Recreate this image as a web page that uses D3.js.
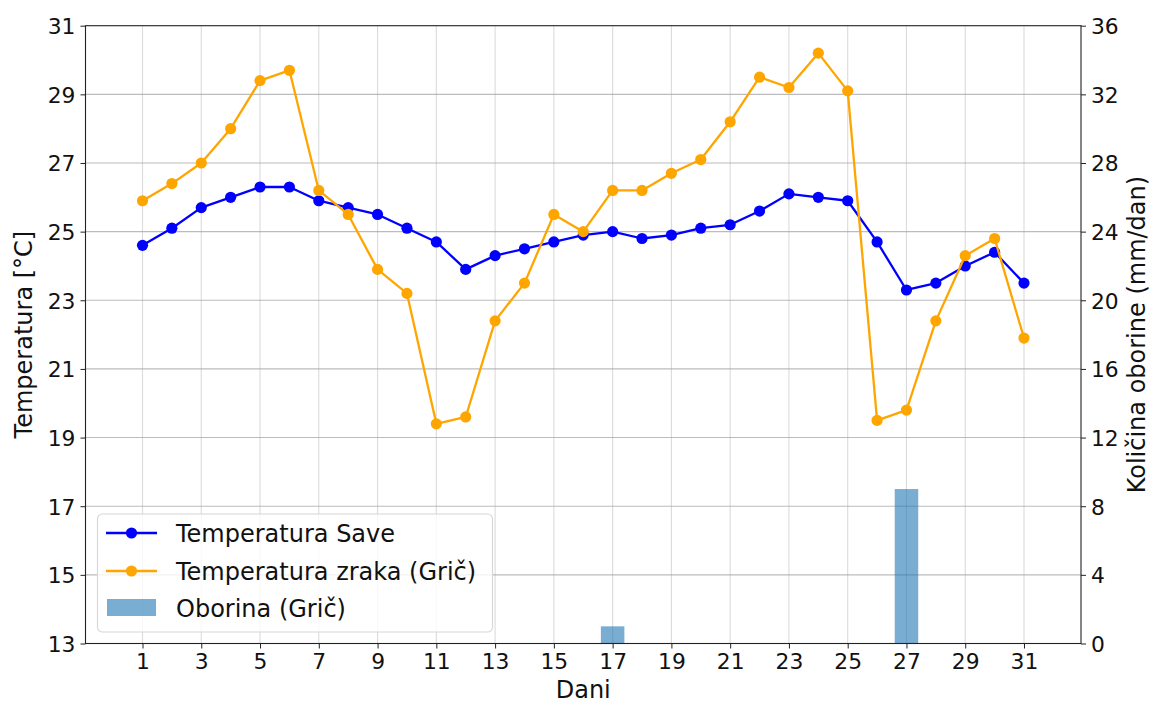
<!DOCTYPE html>
<html>
<head>
<meta charset="utf-8">
<script src="https://cdn.jsdelivr.net/npm/d3@7"></script>
<style>
  html, body { margin: 0; padding: 0; background: #fff; }
  svg { display: block; font-family: "DejaVu Sans", sans-serif; }
</style>
</head>
<body>
<svg id="chart" width="1152" height="705"></svg>
<script>
const days = d3.range(1, 32);
const tempSave = [24.6, 25.1, 25.7, 26.0, 26.3, 26.3, 25.9, 25.7, 25.5, 25.1,
  24.7, 23.9, 24.3, 24.5, 24.7, 24.9, 25.0, 24.8, 24.9, 25.1,
  25.2, 25.6, 26.1, 26.0, 25.9, 24.7, 23.3, 23.5, 24.0, 24.4, 23.5];
const tempGric = [25.9, 26.4, 27.0, 28.0, 29.4, 29.7, 26.2, 25.5, 23.9, 23.2,
  19.4, 19.6, 22.4, 23.5, 25.5, 25.0, 26.2, 26.2, 26.7, 27.1,
  28.2, 29.5, 29.2, 30.2, 29.1, 19.5, 19.8, 22.4, 24.3, 24.8, 21.9];
const precip = [0, 0, 0, 0, 0, 0, 0, 0, 0, 0,
  0, 0, 0, 0, 0, 0, 1.0, 0, 0, 0,
  0, 0, 0, 0, 0, 0, 9.0, 0, 0, 0, 0];
const xTicks = d3.range(1, 32, 2);
const leftTicks = d3.range(13, 32, 2);
const rightTicks = d3.range(0, 37, 4);
const seriesNames = ["Temperatura Save", "Temperatura zraka (Grič)", "Oborina (Grič)"];

const L = 85.5, R = 1081, T = 25.7, B = 643.5;
const svg = d3.select("#chart");

const x = d3.scaleLinear().domain([-0.94, 32.94]).range([L, R]);
const yL = d3.scaleLinear().domain([13, 31]).range([B, T]);
const yR = d3.scaleLinear().domain([0, 36]).range([B, T]);

const tickFont = "21.8px";
const labelFont = "24px";
const lw = 2.3, mr = 5.6;

// grid
const grid = svg.append("g");
grid.selectAll("line.v").data(xTicks).join("line")
  .attr("x1", d => x(d)).attr("x2", d => x(d)).attr("y1", T).attr("y2", B)
  .attr("stroke", "#b0b0b0").attr("stroke-opacity", 0.45).attr("stroke-width", 1.1);
grid.selectAll("line.h").data(leftTicks.slice(1, -1)).join("line")
  .attr("x1", L).attr("x2", R).attr("y1", d => yL(d)).attr("y2", d => yL(d))
  .attr("stroke", "#a0a0a0").attr("stroke-opacity", 0.7).attr("stroke-width", 1.1);

// bars
const bw = x(0.8) - x(0);
svg.append("g").selectAll("rect").data(days.map((d, i) => ({d, v: precip[i]})).filter(o => o.v > 0)).join("rect")
  .attr("x", o => x(o.d) - bw / 2).attr("width", bw)
  .attr("y", o => yR(o.v)).attr("height", o => B - yR(o.v))
  .attr("fill", "#1f77b4").attr("fill-opacity", 0.6);

// lines
function drawSeries(vals, color) {
  const g = svg.append("g");
  const line = d3.line().x((d, i) => x(days[i])).y(d => yL(d));
  g.append("path").datum(vals).attr("d", line)
    .attr("fill", "none").attr("stroke", color).attr("stroke-width", lw)
    .attr("stroke-linejoin", "round");
  g.selectAll("circle").data(vals).join("circle")
    .attr("cx", (d, i) => x(days[i])).attr("cy", d => yL(d)).attr("r", mr)
    .attr("fill", color);
}
drawSeries(tempSave, "#0000ff");
drawSeries(tempGric, "#ffa500");

// axes
const xAxis = d3.axisBottom(x).tickValues(xTicks).tickSize(5).tickPadding(5).tickFormat(d3.format("d"));
const yAxisL = d3.axisLeft(yL).tickValues(leftTicks).tickSize(5).tickPadding(5).tickFormat(d3.format("d"));
const yAxisR = d3.axisRight(yR).tickValues(rightTicks).tickSize(5).tickPadding(5).tickFormat(d3.format("d"));

function styleAxis(g) {
  g.select(".domain").remove();
  g.selectAll(".tick line").attr("stroke", "#222").attr("stroke-width", 1);
  g.selectAll(".tick text").attr("fill", "#111").style("font-size", tickFont)
    .style("font-family", "DejaVu Sans, sans-serif");
}
svg.append("g").attr("transform", `translate(0,${B})`).call(xAxis).call(styleAxis);
svg.append("g").attr("transform", `translate(${L},0)`).call(yAxisL).call(styleAxis)
  .selectAll(".tick text").attr("dy", "0.36em");
svg.append("g").attr("transform", `translate(${R},0)`).call(yAxisR).call(styleAxis)
  .selectAll(".tick text").attr("dy", "0.36em");

// frame
svg.append("rect").attr("x", L).attr("y", T).attr("width", R - L).attr("height", B - T)
  .attr("fill", "none").attr("stroke", "#222").attr("stroke-width", 1.1);

// labels
svg.append("text").attr("x", (L + R) / 2).attr("y", 698).attr("text-anchor", "middle")
  .style("font-size", labelFont).attr("fill", "#111").text("Dani");
svg.append("text").attr("transform", `translate(32,${(T + B) / 2}) rotate(-90)`)
  .attr("text-anchor", "middle").style("font-size", labelFont).attr("fill", "#111").text("Temperatura [°C]");
svg.append("text").attr("transform", `translate(1145,${(T + B) / 2}) rotate(-90)`)
  .attr("text-anchor", "middle").style("font-size", labelFont).attr("fill", "#111").text("Količina oborine (mm/dan)");

// legend
const lg = svg.append("g");
lg.append("rect").attr("x", 97.5).attr("y", 514).attr("width", 395).attr("height", 118).attr("rx", 5)
  .attr("fill", "#fff").attr("fill-opacity", 0.8).attr("stroke", "#d6d6d6").attr("stroke-width", 1.1);
const rowsY = [533, 571, 608];
[["#0000ff", seriesNames[0]], ["#ffa500", seriesNames[1]]].forEach(([c, name], i) => {
  lg.append("line").attr("x1", 106).attr("x2", 157).attr("y1", rowsY[i]).attr("y2", rowsY[i])
    .attr("stroke", c).attr("stroke-width", lw);
  lg.append("circle").attr("cx", 131.5).attr("cy", rowsY[i]).attr("r", mr).attr("fill", c);
  lg.append("text").attr("x", 176).attr("y", rowsY[i]).attr("dy", "0.36em")
    .style("font-size", labelFont).attr("fill", "#111").text(name);
});
lg.append("rect").attr("x", 107).attr("y", 599).attr("width", 49).attr("height", 17)
  .attr("fill", "#1f77b4").attr("fill-opacity", 0.6);
lg.append("text").attr("x", 176).attr("y", rowsY[2]).attr("dy", "0.36em")
  .style("font-size", labelFont).attr("fill", "#111").text(seriesNames[2]);
</script>
</body>
</html>
